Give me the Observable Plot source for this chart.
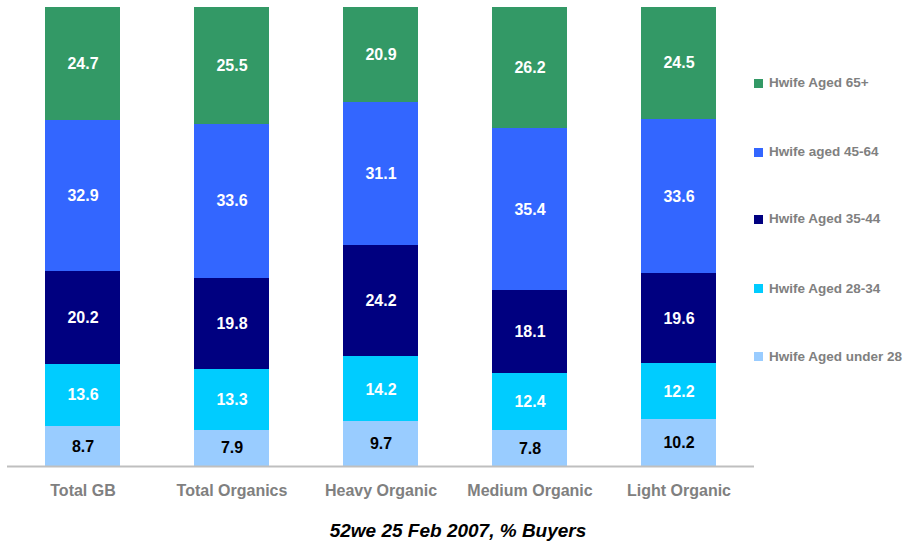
<!DOCTYPE html>
<html>
<head>
<meta charset="utf-8">
<script src="https://cdn.jsdelivr.net/npm/d3@7"></script>
<script src="https://cdn.jsdelivr.net/npm/@observablehq/plot@0.6"></script>
<style>
  html, body { margin: 0; padding: 0; background: #fff; }
  body { font-family: "Liberation Sans", Arial, sans-serif; }
  #wrap { position: relative; width: 906px; height: 545px; }
  #legend { position: absolute; left: 754px; top: 0; }
  .li { position: absolute; left: 0; white-space: nowrap; font-weight: bold; font-size: 13.5px; color: #808080; line-height: 16px; }
  .sw { display: inline-block; width: 9px; height: 9px; margin-right: 6px; vertical-align: -0.5px; }
  #caption { position: absolute; left: 0; width: 916px; top: 520px; text-align: center; font-weight: bold; font-style: italic; font-size: 19px; color: #000; }
</style>
</head>
<body>
<div id="wrap">
  <div id="chart"></div>
  <div id="legend"></div>
  <div id="caption">52we 25 Feb 2007, % Buyers</div>
</div>
<script>
const categories = ["Total GB", "Total Organics", "Heavy Organic", "Medium Organic", "Light Organic"];
const series = ["Hwife Aged under 28", "Hwife Aged 28-34", "Hwife Aged 35-44", "Hwife aged 45-64", "Hwife Aged 65+"];
const colors = ["#99CCFF", "#00CCFF", "#000080", "#3366FF", "#339966"];
const under28 = [8.7, 7.9, 9.7, 7.8, 10.2];
const aged28_34 = [13.6, 13.3, 14.2, 12.4, 12.2];
const aged35_44 = [20.2, 19.8, 24.2, 18.1, 19.6];
const aged45_64 = [32.9, 33.6, 31.1, 35.4, 33.6];
const aged65plus = [24.7, 25.5, 20.9, 26.2, 24.5];
const seriesValues = [under28, aged28_34, aged35_44, aged45_64, aged65plus];

const data = [];
series.forEach((s, si) => {
  categories.forEach((c, ci) => {
    data.push({category: c, series: s, value: seriesValues[si][ci]});
  });
});

const stackOpts = {x: "category", y: "value", z: "series", text: d => d.value.toFixed(1)};

const plot = Plot.plot({
  width: 906,
  height: 500,
  marginLeft: 7,
  marginRight: 152,
  marginTop: 7,
  marginBottom: 34,
  style: {fontFamily: "'Liberation Sans', Arial, sans-serif", background: "#fff"},
  x: {domain: categories, paddingInner: 0.5, paddingOuter: 0.25, label: null},
  y: {domain: [0, 100], axis: null},
  color: {domain: series, range: colors},
  marks: [
    Plot.barY(data, Plot.stackY({x: "category", y: "value", z: "series", fill: "series", order: null, shapeRendering: "crispEdges"})),
    Plot.ruleY([0], {stroke: "#bfbfbf", strokeWidth: 2}),
    Plot.text(data.filter(d => d.series === series[0]), Plot.stackY({...stackOpts, fill: "#000", fontWeight: "bold", fontSize: 16})),
    Plot.text(data, Plot.stackY({...stackOpts, fill: d => d.series === series[0] ? "transparent" : "#ffffff", fontWeight: "bold", fontSize: 16})),
    Plot.axisX({tickSize: 0, tickPadding: 18, fontSize: 16, fontWeight: "bold", fill: "#808080", label: null})
  ]
});
document.getElementById("chart").appendChild(plot);

// Legend (HTML), top entry = last series
const legendTops = [83, 152, 219, 288.5, 356.5];
const legend = document.getElementById("legend");
series.slice().reverse().forEach((s, i) => {
  const color = colors[series.indexOf(s)];
  const div = document.createElement("div");
  div.className = "li";
  div.style.top = (legendTops[i] - 8) + "px";
  div.innerHTML = `<span class="sw" style="background:${color}"></span>${s}`;
  legend.appendChild(div);
});
</script>
</body>
</html>
